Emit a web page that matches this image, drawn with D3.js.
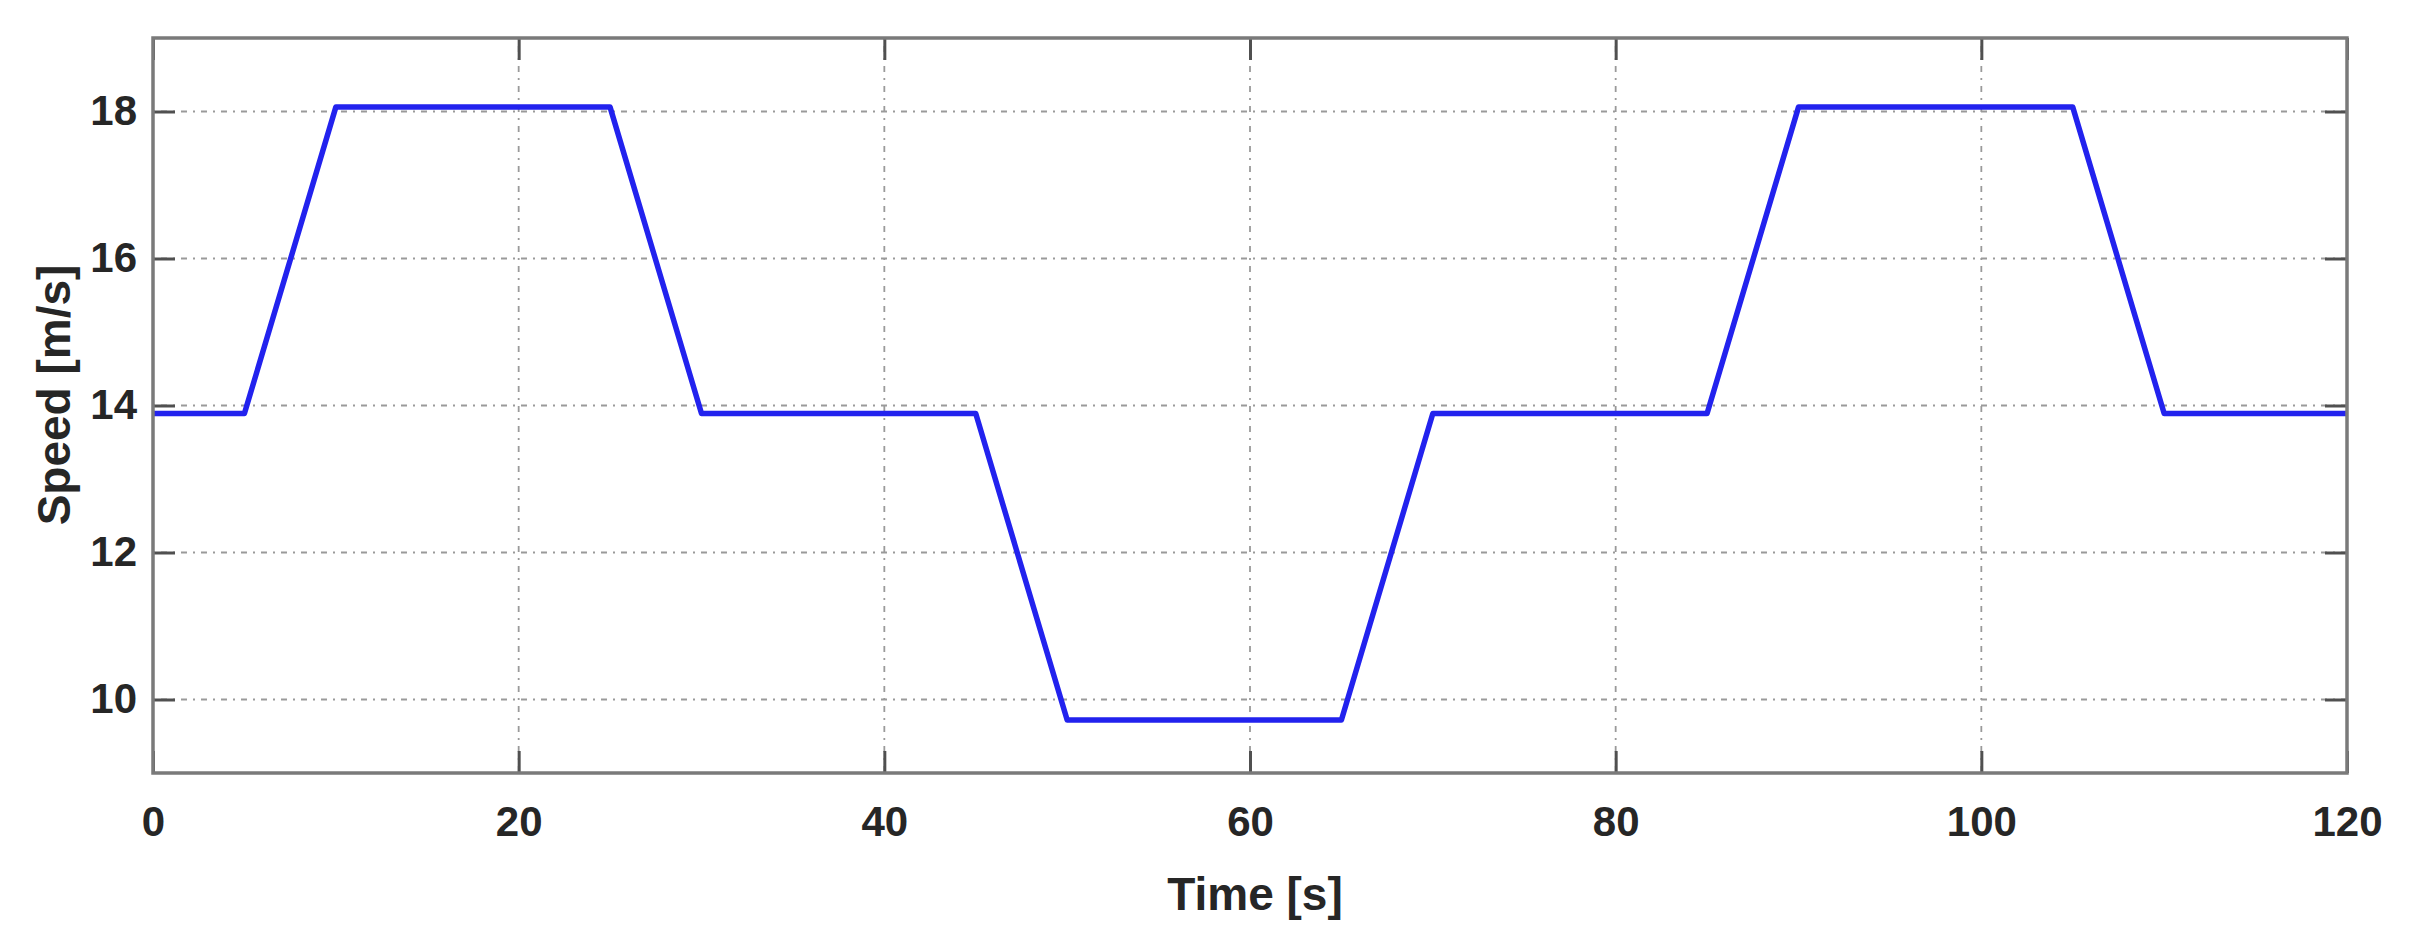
<!DOCTYPE html>
<html><head><meta charset="utf-8">
<script src="https://cdn.jsdelivr.net/npm/d3@7"></script>
<style>html,body{margin:0;padding:0;background:#fff;}</style>
</head><body>
<svg id="chart" width="2409" height="937"></svg>
<script>
const timeValues = [0, 5, 10, 25, 30, 45, 50, 65, 70, 85, 90, 105, 110, 120];
const speedValues = [13.89, 13.89, 18.06, 18.06, 13.89, 13.89, 9.72, 9.72, 13.89, 13.89, 18.06, 18.06, 13.89, 13.89];
const xTicks = [0, 20, 40, 60, 80, 100, 120];
const yTicks = [10, 12, 14, 16, 18];
const xLabel = "Time [s]";
const yLabel = "Speed [m/s]";

const svg = d3.select("#chart");
const m = {left: 153, right: 2347, top: 38, bottom: 773};
const x = d3.scaleLinear().domain([0, 120]).range([m.left, m.right]);
const y = d3.scaleLinear().domain([9, 19]).range([m.bottom, m.top]);
const font = "'Liberation Sans', Arial, sans-serif";
const txt = "#262626";

// grid
const grid = svg.append("g");
grid.selectAll(".gx").data(xTicks.slice(1, -1)).enter().append("line")
  .attr("x1", d => x(d)).attr("x2", d => x(d)).attr("y1", m.top).attr("y2", m.bottom)
  .attr("stroke", "#9a9a9a").attr("stroke-width", 1.8).attr("stroke-dasharray", "2,6,6,6");
grid.selectAll(".gy").data(yTicks).enter().append("line")
  .attr("y1", d => y(d)).attr("y2", d => y(d)).attr("x1", m.left).attr("x2", m.right)
  .attr("stroke", "#9a9a9a").attr("stroke-width", 1.8).attr("stroke-dasharray", "2,6,6,6");

// data line
const line = d3.line().x((d, i) => x(timeValues[i])).y(d => y(d));
svg.append("path").datum(speedValues).attr("d", line)
  .attr("fill", "none").attr("stroke", "#2222ee").attr("stroke-width", 5.5)
  .attr("stroke-linejoin", "round");

// axes with inward ticks
function styleAxis(g) {
  g.select(".domain").remove();
  g.selectAll(".tick line").attr("stroke", "#505050").attr("stroke-width", 3);
  g.selectAll(".tick text").attr("fill", txt).attr("font-family", font)
    .attr("font-weight", "bold").attr("font-size", 42);
}
svg.append("g").attr("transform", `translate(0,${m.bottom})`)
  .call(d3.axisBottom(x).tickValues(xTicks).tickSize(-22).tickPadding(33).tickFormat(d3.format("d")))
  .call(styleAxis);
svg.append("g").attr("transform", `translate(0,${m.top})`)
  .call(d3.axisTop(x).tickValues(xTicks).tickSize(-22).tickFormat(""))
  .call(styleAxis);
svg.append("g").attr("transform", `translate(${m.left},0)`)
  .call(d3.axisLeft(y).tickValues(yTicks).tickSize(-22).tickPadding(16).tickFormat(d3.format("d")))
  .call(styleAxis);
svg.append("g").attr("transform", `translate(${m.right},0)`)
  .call(d3.axisRight(y).tickValues(yTicks).tickSize(-22).tickFormat(""))
  .call(styleAxis);

// box
svg.append("rect").attr("x", m.left).attr("y", m.top)
  .attr("width", m.right - m.left).attr("height", m.bottom - m.top)
  .attr("fill", "none").attr("stroke", "#7a7a7a").attr("stroke-width", 3.5);

// labels
svg.append("text").attr("x", (m.left + m.right) / 2 + 5).attr("y", 910)
  .attr("text-anchor", "middle").attr("fill", txt).attr("font-family", font)
  .attr("font-weight", "bold").attr("font-size", 46).text(xLabel);
svg.append("text").attr("transform", `translate(70,395) rotate(-90)`)
  .attr("text-anchor", "middle").attr("fill", txt).attr("font-family", font)
  .attr("font-weight", "bold").attr("font-size", 46).text(yLabel);
</script>
</body></html>
